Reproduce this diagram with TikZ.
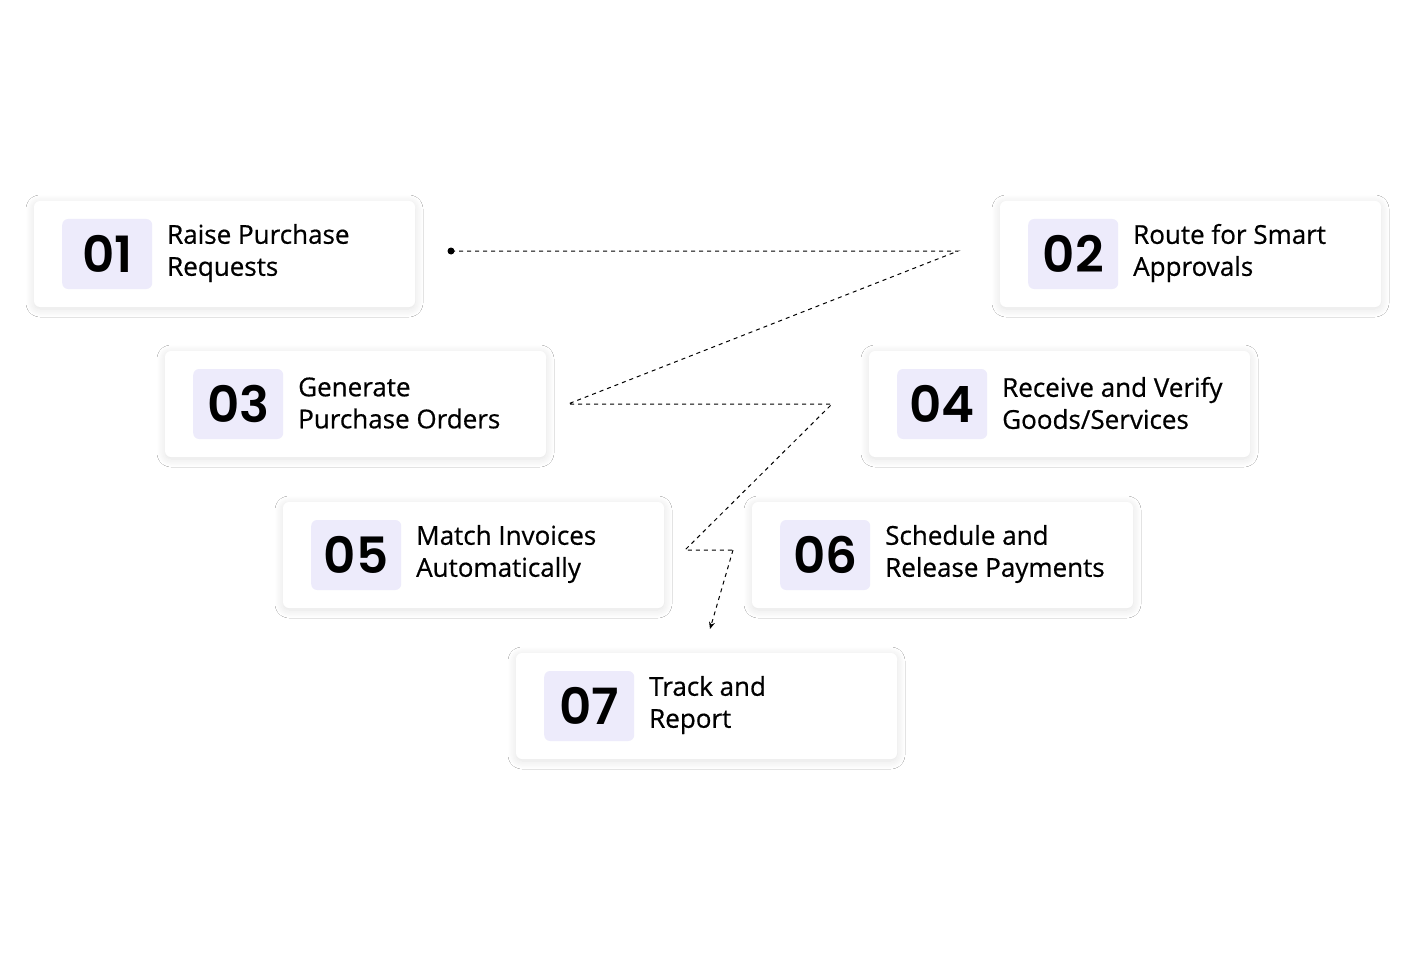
\documentclass[tikz,border=0pt]{standalone}
\usepackage{fontspec}
\setmainfont{Open Sans}
\newfontfamily\numfont{Poppins}[UprightFont=* SemiBold]
\usetikzlibrary{shadows.blur,arrows.meta}
\definecolor{lav}{HTML}{EDEBFB}
\begin{document}
\begin{tikzpicture}[x=1pt,y=-1pt,
 card/.style={fill=white,rounded corners=6pt,blur shadow={shadow blur steps=8,shadow xshift=0pt,shadow yshift=-2pt,shadow opacity=12,shadow blur radius=8pt}},
 num/.style={fill=lav,rounded corners=6pt,minimum width=90pt,minimum height=70pt,inner sep=0pt,font=\numfont\fontsize{50}{50}\selectfont,anchor=west},
 lbl/.style={anchor=west,align=left,inner sep=0pt,font=\fontsize{26}{32}\selectfont\addfontfeatures{FakeBold=0.6}},
 dl/.style={densely dashed,line width=1pt,dash pattern=on 4pt off 4pt}]
\useasboundingbox (0,0) rectangle (1416,960);
\fill[white] (0,0) rectangle (1416,960);
\def\card#1#2#3#4#5{%
 \path[card] (#1,#2) rectangle ++(381,106);
 \node[num] (n#3) at (#1+28,#2+53) {#3};
 \node[lbl] (t#3) at (#1+133,#2+52) {#4\\#5};}
\card{34}{201}{01}{Raise Purchase}{Requests}
\card{1000}{201}{02}{Route for Smart}{Approvals}
\card{165}{351}{03}{Generate}{Purchase Orders}
\card{869}{351}{04}{Receive and Verify}{Goods/Services}
\card{283}{502}{05}{Match Invoices}{Automatically}
\card{752}{502}{06}{Schedule and}{Release Payments}
\card{516}{653}{07}{Track and}{Report}
\coordinate (a) at (451,251);
\coordinate (b) at (958,251);
\coordinate (c) at (568,404);
\coordinate (d) at (832,404);
\coordinate (e) at (685,550);
\coordinate (f) at (733,550);
\coordinate (g) at (710,629);
\fill (a) circle (3.5pt);
\draw[dl] (a) -- (b) -- (c) -- (d) -- (e) -- (f);
\draw[dl,-{Stealth[length=7pt,width=6pt]}] (f) -- (g);
\end{tikzpicture}
\end{document}
